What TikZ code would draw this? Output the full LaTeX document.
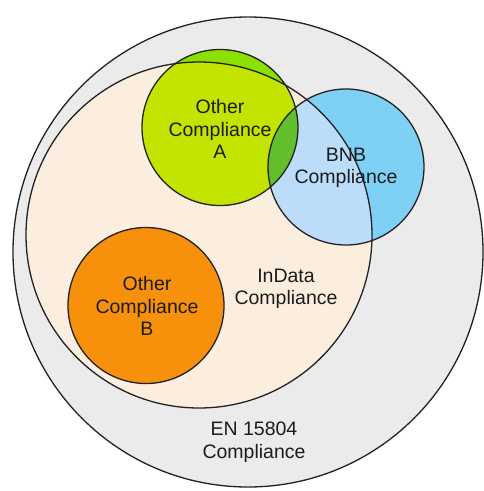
\documentclass[tikz,border=0pt]{standalone}
\usepackage{fontspec}
\setmainfont{Liberation Sans}
\definecolor{outerfill}{HTML}{EBEBEB}
\definecolor{indatafill}{HTML}{FCEEDE}
\definecolor{greenout}{HTML}{8CE000}
\definecolor{greenin}{HTML}{C2E400}
\definecolor{blueout}{HTML}{7FD0F5}
\definecolor{bluein}{HTML}{BCDDF9}
\definecolor{gboverlap}{HTML}{62BE2A}
\definecolor{orangefill}{HTML}{F7900A}
\definecolor{edge}{HTML}{222222}
\definecolor{txt}{HTML}{1C1C1C}
\tikzset{
  ring/.style={draw=edge, line width=1.3pt},
  lbl/.style={align=center, text=txt, font=\fontsize{19.5}{22.5}\selectfont, inner sep=0pt}
}
\begin{document}
\begin{tikzpicture}[x=1pt,y=-1pt]
\useasboundingbox (0,0) rectangle (483,491);
\fill[white] (0,0) rectangle (483,491);
% coordinates of circle centres
\coordinate (co) at (248,252);
\coordinate (ci) at (199,235);
\coordinate (cb) at (146,305.5);
\coordinate (ca) at (220,127.5);
\coordinate (cn) at (346,167);
% outer circle
\fill[outerfill] (co) circle[radius=235];
% InData
\fill[indatafill] (ci) circle[radius=173];
% orange B
\fill[orangefill] (cb) circle[radius=78];
% green A
\fill[greenout] (ca) circle[radius=78];
\begin{scope}
  \clip (ci) circle[radius=173];
  \fill[greenin] (ca) circle[radius=78];
\end{scope}
% blue BNB
\fill[blueout] (cn) circle[radius=78];
\begin{scope}
  \clip (ci) circle[radius=173];
  \fill[bluein] (cn) circle[radius=78];
\end{scope}
% overlap green/blue
\begin{scope}
  \clip (ca) circle[radius=78];
  \fill[gboverlap] (cn) circle[radius=78];
\end{scope}
% outlines
\draw[ring] (co) circle[radius=235];
\draw[ring] (ci) circle[radius=173];
\draw[ring] (cb) circle[radius=78];
\draw[ring] (ca) circle[radius=78];
\draw[ring] (cn) circle[radius=78];
% labels
\node[lbl] (la) at (220,129) {Other\\Compliance\\A};
\node[lbl] (ln) at (346,168) {BNB\\Compliance};
\node[lbl] (lb) at (147,306) {Other\\Compliance\\B};
\node[lbl] (li) at (286,289) {InData\\Compliance};
\node[lbl] (le) at (254,442) {EN 15804\\Compliance};
\end{tikzpicture}
\end{document}
